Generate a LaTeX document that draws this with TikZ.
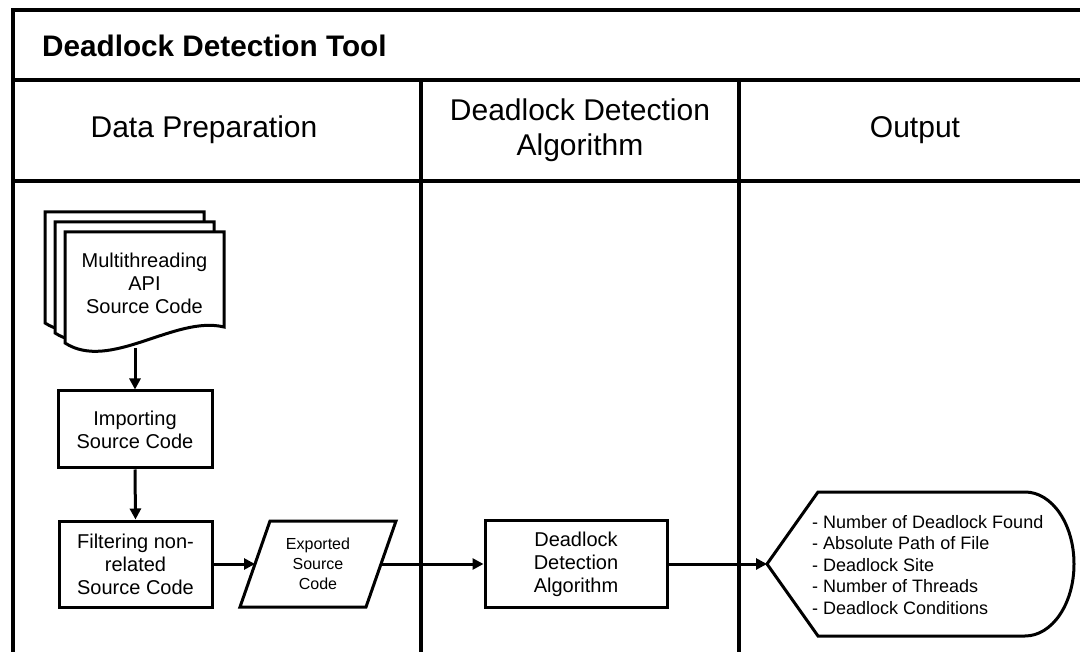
\documentclass[tikz,border=0pt]{standalone}
\usepackage{fontspec}
\setmainfont{Liberation Sans}
\usetikzlibrary{arrows.meta}
\newcommand\docsheet{(65,343) -- (65,232) -- (224,232) -- (224,327)
  .. controls (175,315) and (110,372) .. (65,343) -- cycle}
\begin{document}
\begin{tikzpicture}[x=1pt,y=-1pt,
  frame/.style={line width=4pt},
  shapeline/.style={draw, line width=3pt, line join=miter, fill=white},
  stepbox/.style={shapeline, align=center, inner sep=0pt,
    font=\fontsize{20}{23}\selectfont},
  flow/.style={line width=3pt, -{Triangle[length=11pt,width=11pt]}},
  lane/.style={align=center, font=\fontsize{30}{35}\selectfont},
  body/.style={align=center, inner sep=0pt, font=\fontsize{20}{23}\selectfont}]
\useasboundingbox (0,0) rectangle (1080,652);
\fill[white] (0,0) rectangle (1080,652);

% swimlane frame
\draw[frame] (1080,10.5) -- (13,10.5) -- (13,652);
\draw[frame] (13,80.5) -- (1080,80.5);
\draw[frame] (13,181) -- (1080,181);
\draw[frame] (420.5,80.5) -- (420.5,652);
\draw[frame] (738.5,80.5) -- (738.5,652);

% titles
\node[anchor=west, inner sep=0pt, font=\fontsize{29.7}{35}\selectfont\bfseries] (title) at (42,46) {Deadlock Detection Tool};
\node[lane] (laneA) at (204,130) {Data Preparation};
\node[lane] (laneB) at (580,130) {Deadlock Detection\\Algorithm};
\node[lane] (laneC) at (915,130) {Output};

% stacked source documents
\begin{scope}[shift={(-20,-20)}]
  \path[shapeline] \docsheet;
\end{scope}
\begin{scope}[shift={(-10,-10)}]
  \path[shapeline] \docsheet;
\end{scope}
\path[shapeline] \docsheet;
\node[body] (doc) at (144.5,283) {Multithreading\\API\\Source Code};
\coordinate (docS) at (135,348);

% process steps
\node[stepbox, minimum width=154pt, minimum height=77pt] (imp) at (135,429.5) {Importing\\Source Code};
\node[stepbox, minimum width=153pt, minimum height=86pt] (filt) at (135.5,564) {Filtering non-\\related\\Source Code};

% exported data (parallelogram)
\path[shapeline] (270,521) -- (396,521) -- (366,607) -- (240,607) -- cycle;
\node[align=center, inner sep=0pt, font=\fontsize{16}{20}\selectfont] (exp) at (318,564) {Exported\\Source\\Code};
\coordinate (expW) at (255,564);
\coordinate (expE) at (381,564);

% detection algorithm
\node[stepbox, minimum width=182pt, minimum height=87pt] (alg) at (576,564) {Deadlock\\Detection\\Algorithm};

% output display
\path[shapeline] (767,564) -- (818,492) -- (1025,492)
  .. controls (1052,492) and (1074,524) .. (1074,564)
  .. controls (1074,604) and (1052,636) .. (1025,636)
  -- (818,636) -- cycle;
\coordinate (outW) at (767,564);
\node[anchor=west, align=left, inner sep=0pt, font=\fontsize{18}{21.5}\selectfont] (res) at (812,565)
  {- Number of Deadlock Found\\- Absolute Path of File\\- Deadlock Site\\- Number of Threads\\- Deadlock Conditions};

% connectors
\draw[flow] (docS) -- (imp.north);
\draw[flow] (imp.south) -- (filt.north);
\draw[flow] (filt.east) -- (expW);
\draw[flow] (expE) -- (alg.west);
\draw[flow] (alg.east) -- (outW);
\end{tikzpicture}
\end{document}
